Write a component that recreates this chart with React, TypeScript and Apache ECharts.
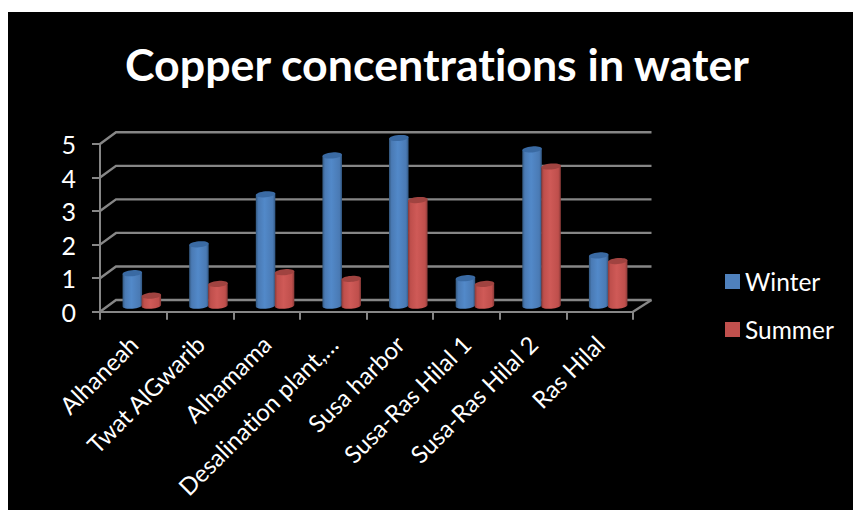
import React, { useEffect, useRef } from "react";
import * as echarts from "echarts";

const TITLE = "Copper concentrations in water";
const categories = [
  "Alhaneah",
  "Twat AlGwarib",
  "Alhamama",
  "Desalination plant,…",
  "Susa harbor",
  "Susa-Ras Hilal 1",
  "Susa-Ras Hilal 2",
  "Ras Hilal",
];
const winter = [0.97, 1.83, 3.32, 4.48, 5.0, 0.82, 4.66, 1.5];
const summer = [0.3, 0.65, 1.0, 0.8, 3.15, 0.65, 4.15, 1.33];
const gridValues = [0, 1, 2, 3, 4, 5];

const FONT = "Lato, 'Open Sans', sans-serif";
const GREY = "#868686";

const gradient = (edge: string, mid: string, light: string, edge2: string) =>
  new echarts.graphic.LinearGradient(0, 0, 1, 0, [
    { offset: 0, color: edge },
    { offset: 0.13, color: mid },
    { offset: 0.45, color: light },
    { offset: 0.87, color: mid },
    { offset: 1, color: edge2 },
  ]);

const cylinder =
  (offsetX: number, body: any, cap: string) => (_p: any, api: any) => {
    const [cx0, yTop0] = api.coord([api.value(0), api.value(1)]);
    const [, yBase0] = api.coord([api.value(0), 0]);
    const cx = cx0 + offsetX;
    const yBase = yBase0 - 6;
    const yTop = yTop0 - 6;
    const rx = 9.8;
    const ry = 3;
    const tilt = (-5 * Math.PI) / 180;
    const pt = (cy: number, t: number) => [
      cx + rx * Math.cos(t) * Math.cos(tilt) - ry * Math.sin(t) * Math.sin(tilt),
      cy + rx * Math.cos(t) * Math.sin(tilt) + ry * Math.sin(t) * Math.cos(tilt),
    ];
    const points: number[][] = [pt(yTop, Math.PI), pt(yTop, 0)];
    for (let k = 0; k <= 16; k++) points.push(pt(yBase, (k / 16) * Math.PI));
    const capPts: number[][] = [];
    for (let k = 0; k < 32; k++) capPts.push(pt(yTop, (k / 32) * 2 * Math.PI));
    return {
      type: "group",
      children: [
        { type: "polygon", shape: { points }, style: { fill: body } },
        { type: "polygon", shape: { points: capPts }, style: { fill: cap } },
      ],
    };
  };

const wallItem = (params: any, api: any) => {
  const cs = params.coordSys;
  const v = api.value(0);
  const [, y] = api.coord([0, v]);
  const backLeft = cs.x + 16;
  const backRight = cs.x + cs.width + 18.5;
  const backY = y - 11.7;
  const style = { stroke: GREY, lineWidth: 2.4, fill: "none" };
  const children: any[] = [
    {
      type: "polyline",
      shape: { points: [[cs.x, y], [backLeft, backY], [backRight, backY]] },
      style,
    },
  ];
  if (v === 0) {
    children.push({
      type: "line",
      shape: { x1: cs.x + cs.width, y1: y, x2: backRight, y2: backY },
      style,
    });
  }
  return { type: "group", children };
};

export default function App() {
  const ref = useRef<HTMLDivElement>(null);
  useEffect(() => {
    const chart = echarts.init(ref.current!, undefined, { renderer: "svg" });
    chart.setOption({
      animation: false,
      backgroundColor: "#ffffff",
      graphic: [
        {
          type: "rect",
          z: -10,
          shape: { x: 8, y: 12, width: 845, height: 498 },
          style: { fill: "#000000" },
        },
      ],
      title: {
        text: TITLE,
        left: 432,
        top: 36,
        textAlign: "center",
        textStyle: { color: "#ffffff", fontFamily: FONT, fontWeight: "bold", fontSize: 44.7 },
      },
      legend: {
        orient: "vertical",
        left: 725,
        top: 269,
        padding: 0,
        icon: "rect",
        itemWidth: 15,
        itemHeight: 15,
        itemGap: 23,
        data: ["Winter", "Summer"],
        textStyle: { color: "#ffffff", fontFamily: FONT, fontSize: 24.5 },
      },
      grid: { left: 100, top: 144, width: 533, height: 167.7 },
      xAxis: {
        type: "category",
        data: categories,
        axisLine: { lineStyle: { color: GREY, width: 2 } },
        axisTick: { show: true, length: 8, alignWithLabel: false, lineStyle: { color: GREY, width: 2 } },
        axisLabel: {
          interval: 0,
          rotate: 45,
          margin: 28,
          color: "#ffffff",
          fontFamily: FONT,
          fontSize: 24,
        },
      },
      yAxis: {
        type: "value",
        min: 0,
        max: 5,
        interval: 1,
        splitLine: { show: false },
        axisLine: { show: true, lineStyle: { color: GREY, width: 2 } },
        axisTick: { show: true, length: 8, lineStyle: { color: GREY, width: 2 } },
        axisLabel: { color: "#ffffff", fontFamily: FONT, fontSize: 25, margin: 24 },
      },
      series: [
        {
          type: "custom",
          name: "walls",
          z: 1,
          silent: true,
          data: gridValues.map((v) => [v]),
          encode: { y: 0 },
          renderItem: wallItem,
        },
        {
          type: "custom",
          name: "Winter",
          z: 3,
          itemStyle: { color: "#4f81bd" },
          data: winter.map((v, i) => [i, v]),
          encode: { x: 0, y: 1 },
          renderItem: cylinder(-1, gradient("#33587f", "#4a7ab4", "#5289c9", "#315680"), "#3a6aa3"),
        },
        {
          type: "custom",
          name: "Summer",
          z: 4,
          itemStyle: { color: "#c0504d" },
          data: summer.map((v, i) => [i, v]),
          encode: { x: 0, y: 1 },
          renderItem: cylinder(18, gradient("#8a3a38", "#bf4f4c", "#cf5a57", "#873937"), "#a04340"),
        },
      ],
    });
    return () => chart.dispose();
  }, []);
  return (
    <>
      <style>{"text { font-variant-ligatures: none !important; }"}</style>
      <div
        ref={ref}
        style={{ position: "fixed", left: 0, top: 0, width: 853, height: 510 }}
      />
    </>
  );
}
